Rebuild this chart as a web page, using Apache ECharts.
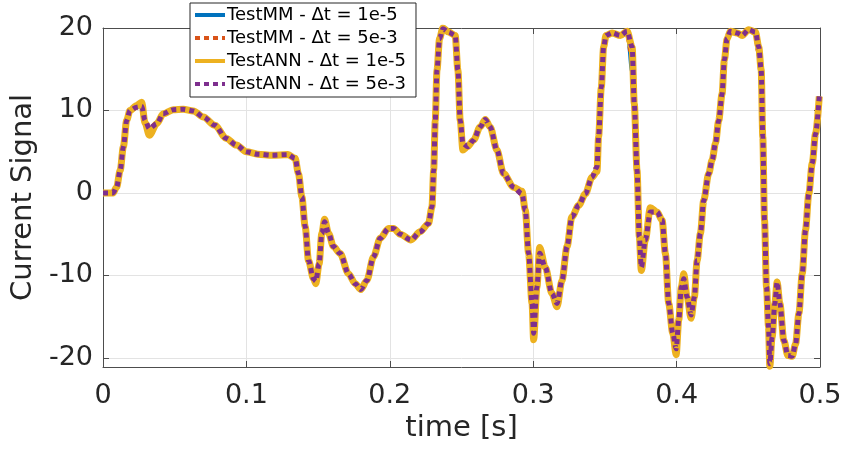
<!DOCTYPE html>
<html>
<head>
<meta charset="utf-8">
<script src="https://cdn.jsdelivr.net/npm/echarts@6/dist/echarts.min.js"></script>
<style>
  html, body { margin: 0; padding: 0; background: #fff; }
  #main { width: 845px; height: 450px; }
</style>
</head>
<body>
<div id="main"></div>
<script>
// time samples [s]
var time = [
  0, 0.007, 0.0095, 0.012, 0.0142, 0.0165, 0.0188, 0.0235, 0.027, 0.0293,
  0.0323, 0.0375, 0.042, 0.049, 0.056, 0.063, 0.070, 0.078, 0.086, 0.093,
  0.100, 0.108, 0.118, 0.129, 0.134, 0.1363, 0.1387, 0.141, 0.1433, 0.1468,
  0.1484, 0.1507, 0.1526, 0.1545, 0.1573, 0.1607, 0.1654, 0.1712, 0.1759, 0.1798,
  0.184, 0.1886, 0.1933, 0.1991, 0.2026, 0.2073, 0.2147, 0.2212, 0.227, 0.2294,
  0.2306, 0.2317, 0.2329, 0.2347, 0.237, 0.241, 0.2456, 0.2475, 0.2491, 0.251,
  0.2542, 0.2584, 0.263, 0.2666, 0.270, 0.2747, 0.2793, 0.2863, 0.2922, 0.2945,
  0.2968, 0.2992, 0.3003, 0.3026, 0.3045, 0.3084, 0.3131, 0.3166, 0.3201, 0.3236,
  0.327, 0.3317, 0.3364, 0.341, 0.3445, 0.3456, 0.3475, 0.3491, 0.3508, 0.355,
  0.3608, 0.3655, 0.369, 0.3705, 0.3724, 0.374, 0.3754, 0.3782, 0.3817, 0.3864,
  0.3899, 0.3922, 0.3945, 0.3973, 0.3997, 0.4015, 0.4033, 0.405, 0.4073, 0.4101,
  0.4124, 0.4143, 0.4166, 0.4189, 0.4224, 0.4248, 0.4271, 0.4294, 0.4317, 0.4333,
  0.4352, 0.4375, 0.4422, 0.4457, 0.4503, 0.455, 0.4573, 0.459, 0.4601, 0.4613,
  0.4627, 0.4641, 0.465, 0.4666, 0.4685, 0.4701, 0.472, 0.4748, 0.4776, 0.4806,
  0.483, 0.4853, 0.4876, 0.4899, 0.4922, 0.4946, 0.4969, 0.4995
];

// TestMM - dt = 1e-5
var mmFine = [
  0, 0, 0.7, 2.75, 5.6, 8.8, 10.0, 10.4, 10.6, 8.8,
  7.8, 8.4, 9.6, 10.1, 10.15, 9.95, 9.2, 8.2, 6.6, 5.8,
  5.0, 4.7, 4.57, 4.65, 4.2, 2.35, -0.5, -4.1, -8.2, -10.4,
  -10.7, -8.6, -4.9, -3.5, -4.9, -6.5, -7.35, -9.8, -11.0, -11.7,
  -10.6, -7.75, -5.5, -4.3, -4.3, -5.0, -5.7, -4.7, -3.7, -1.7,
  2.75, 8.8, 14.9, 18.7, 19.9, 19.5, 19.1, 14.9, 8.8, 6.0,
  5.6, 6.4, 8.0, 8.9, 8.0, 5.2, 2.35, 0.7, -0.1, -2.1,
  -7.35, -13.4, -17.0, -11.4, -7.3, -9.0, -12.2, -13.4, -10.6, -6.5,
  -2.9, -1.5, -0.1, 1.9, 3.15, 6.8, 12.8, 17.7, 19.1, 19.4,
  19.1, 19.8, 14.5, 9.0, 2.75, -5.3, -9.0, -5.4, -2.1, -2.3,
  -3.3, -7.35, -13.4, -17.0, -18.9, -15.4, -11.4, -10.3, -12.6, -14.8,
  -12.6, -8.2, -4.9, -0.9, 2.35, 4.0, 6.0, 8.8, 12.0, 16.1,
  18.7, 19.6, 19.4, 19.1, 19.8, 19.5, 16.5, 12.0, 4.0, -3.3,
  -11.4, -16.2, -20.7, -17.5, -13.4, -10.6, -13.4, -17.9, -19.7, -19.8,
  -18.3, -14.6, -9.8, -4.5, -0.1, 3.6, 7.2, 11.7
];

// TestMM - dt = 5e-3
var mmCoarse = [
  0, 0, 0.7, 2.75, 5.6, 8.8, 10.0, 10.4, 10.5, 8.8,
  7.8, 8.4, 9.6, 10.1, 10.15, 9.95, 9.2, 8.2, 6.6, 5.8,
  5.0, 4.7, 4.57, 4.65, 4.2, 2.35, -0.5, -4.1, -8.2, -10.4,
  -10.7, -8.6, -4.9, -3.5, -4.9, -6.5, -7.35, -9.8, -11.0, -11.7,
  -10.6, -7.75, -5.5, -4.3, -4.3, -5.0, -5.7, -4.7, -3.7, -1.7,
  2.75, 8.8, 14.9, 18.7, 19.9, 19.5, 19.1, 14.9, 8.8, 6.0,
  5.6, 6.4, 8.0, 8.9, 8.0, 5.2, 2.35, 0.7, -0.1, -2.1,
  -7.35, -13.4, -17.0, -11.4, -7.3, -9.0, -12.2, -13.4, -10.6, -6.5,
  -2.9, -1.5, -0.1, 1.9, 3.15, 6.8, 12.8, 17.7, 19.1, 19.4,
  19.1, 19.4, 16.5, 10.8, 2.75, -5.3, -9.0, -5.7, -2.3, -2.3,
  -3.3, -7.35, -13.4, -17.0, -18.9, -15.4, -11.4, -10.4, -12.6, -14.8,
  -12.6, -8.2, -4.9, -0.9, 2.35, 4.0, 6.0, 8.8, 12.0, 16.1,
  18.7, 19.6, 19.4, 19.1, 19.8, 19.3, 17.0, 14.9, 6.8, -3.3,
  -11.4, -16.2, -20.7, -17.5, -13.4, -10.8, -13.4, -17.9, -19.7, -19.8,
  -18.3, -14.6, -9.8, -4.5, -0.1, 3.6, 7.2, 11.7
];

// TestANN - dt = 1e-5
var annFine = [
  0, 0, 0.7, 2.75, 5.6, 8.8, 10.0, 10.6, 11.0, 8.5,
  7.0, 8.4, 9.6, 10.1, 10.15, 9.95, 9.2, 8.2, 6.6, 5.8,
  5.0, 4.7, 4.57, 4.65, 4.2, 2.35, -0.5, -4.1, -8.2, -10.4,
  -11.0, -8.6, -4.9, -3.2, -4.9, -6.5, -7.35, -9.8, -11.0, -11.7,
  -10.6, -7.75, -5.5, -4.3, -4.3, -5.0, -5.7, -4.7, -3.7, -1.7,
  2.75, 8.8, 14.9, 18.7, 20.0, 19.5, 19.1, 14.9, 8.8, 5.2,
  5.6, 6.4, 8.0, 8.9, 8.0, 5.2, 2.35, 0.7, 0.2, -2.1,
  -7.35, -13.4, -17.8, -11.4, -6.6, -9.0, -12.2, -13.8, -10.6, -6.5,
  -2.9, -1.5, -0.1, 1.9, 2.6, 6.8, 12.8, 17.7, 19.1, 19.4,
  19.1, 19.6, 17.7, 10.8, 2.75, -5.3, -9.4, -5.7, -1.8, -2.3,
  -3.3, -7.35, -13.4, -17.0, -19.6, -15.4, -11.4, -9.8, -12.6, -15.2,
  -12.6, -8.2, -4.9, -0.9, 2.35, 4.0, 6.0, 8.8, 12.0, 16.1,
  18.7, 19.6, 19.4, 19.1, 19.8, 19.5, 17.7, 14.9, 6.8, -3.3,
  -11.4, -16.2, -21.0, -17.5, -13.4, -10.8, -13.4, -17.9, -19.7, -19.8,
  -18.3, -14.6, -9.8, -4.5, -0.1, 3.6, 7.2, 11.7
];

// TestANN - dt = 5e-3
var annCoarse = [
  0, 0, 0.7, 2.75, 5.6, 8.8, 10.0, 10.4, 10.5, 8.8,
  7.8, 8.4, 9.6, 10.1, 10.15, 9.95, 9.2, 8.2, 6.6, 5.8,
  5.0, 4.7, 4.57, 4.65, 4.2, 2.35, -0.5, -4.1, -8.2, -10.4,
  -10.7, -8.6, -4.9, -3.5, -4.9, -6.5, -7.35, -9.8, -11.0, -11.7,
  -10.6, -7.75, -5.5, -4.3, -4.3, -5.0, -5.7, -4.7, -3.7, -1.7,
  2.75, 8.8, 14.9, 18.7, 19.9, 19.5, 19.1, 14.9, 8.8, 6.0,
  5.6, 6.4, 8.0, 8.9, 8.0, 5.2, 2.35, 0.7, -0.1, -2.1,
  -7.35, -13.4, -17.0, -11.4, -7.3, -9.0, -12.2, -13.4, -10.6, -6.5,
  -2.9, -1.5, -0.1, 1.9, 3.15, 6.8, 12.8, 17.7, 19.1, 19.4,
  19.1, 19.6, 17.7, 10.8, 2.75, -5.3, -9.0, -5.7, -2.3, -2.3,
  -3.3, -7.35, -13.4, -17.0, -18.9, -15.4, -11.4, -10.4, -12.6, -14.8,
  -12.6, -8.2, -4.9, -0.9, 2.35, 4.0, 6.0, 8.8, 12.0, 16.1,
  18.7, 19.6, 19.4, 19.1, 19.8, 19.5, 17.7, 14.9, 6.8, -3.3,
  -11.4, -16.2, -20.7, -17.5, -13.4, -10.8, -13.4, -17.9, -19.7, -19.8,
  -18.3, -14.6, -9.8, -4.5, -0.1, 3.6, 7.2, 11.7
];

var yTicks = [-20, -10, 0, 10, 20];
var seriesNames = ['TestMM - \u0394t = 1e-5', 'TestMM - \u0394t = 5e-3', 'TestANN - \u0394t = 1e-5', 'TestANN - \u0394t = 5e-3'];

function pairs(vals) {
  return time.map(function (t, i) { return [t, vals[i]]; });
}

var textColor = '#262626';
var axisColor = '#4d4d4d';
var gridColor = '#e3e3e3';
var fontFamily = 'DejaVu Sans';

var myChart = echarts.init(document.getElementById('main'));

function lineSeries(name, vals, color, width, dash) {
  return {
    name: name,
    type: 'line',
    data: pairs(vals),
    symbol: 'none',
    smooth: 0.3,
    smoothMonotone: 'x',
    clip: true,
    lineStyle: { color: color, width: width, type: dash || 'solid', cap: 'butt', join: 'round' },
    itemStyle: { color: color }
  };
}

myChart.setOption({
  animation: false,
  backgroundColor: '#fff',
  textStyle: { fontFamily: fontFamily, color: textColor },
  grid: { left: 103, right: 25, top: 28, bottom: 83 },
  legend: {
    orient: 'vertical',
    left: 190,
    top: 3,
    padding: [3, 10, 4, 3],
    itemWidth: 30,
    itemHeight: 18,
    itemGap: 5,
    backgroundColor: '#fff',
    borderColor: '#262626',
    borderWidth: 1,
    itemStyle: { opacity: 0 },
    textStyle: { fontFamily: fontFamily, fontSize: 18, color: '#000', padding: [0, 0, 0, -3] },
    data: [
      { name: seriesNames[0], lineStyle: { width: 4 } },
      { name: seriesNames[1], lineStyle: { width: 4 } },
      { name: seriesNames[2], lineStyle: { width: 4 } },
      { name: seriesNames[3], lineStyle: { width: 4 } }
    ]
  },
  xAxis: [{
    type: 'value',
    min: 0,
    max: 0.5,
    interval: 0.1,
    name: 'time [s]',
    nameLocation: 'middle',
    nameGap: 45,
    nameTextStyle: { fontFamily: fontFamily, fontSize: 29, color: textColor },
    axisLine: { show: true, onZero: false, lineStyle: { color: axisColor, width: 1 } },
    axisTick: { show: true, inside: true, length: 6, lineStyle: { color: axisColor } },
    axisLabel: { fontFamily: fontFamily, fontSize: 27, color: textColor, margin: 15 },
    splitLine: { show: true, lineStyle: { color: gridColor, width: 1 } }
  }, {
    type: 'value',
    position: 'top',
    min: 0,
    max: 0.5,
    interval: 0.1,
    axisLine: { show: true, onZero: false, lineStyle: { color: axisColor, width: 1 } },
    axisTick: { show: true, inside: true, length: 6, lineStyle: { color: axisColor } },
    axisLabel: { show: false },
    splitLine: { show: false }
  }],
  yAxis: [{
    type: 'value',
    min: -21.1,
    max: 20,
    name: 'Current Signal',
    nameLocation: 'middle',
    nameGap: 63,
    nameTextStyle: { fontFamily: fontFamily, fontSize: 29, color: textColor },
    axisLine: { show: true, onZero: false, lineStyle: { color: axisColor, width: 1 } },
    axisTick: { show: true, inside: true, length: 6, lineStyle: { color: axisColor }, customValues: yTicks },
    axisLabel: { fontFamily: fontFamily, fontSize: 27, color: textColor, margin: 10, customValues: yTicks },
    splitLine: { show: true, lineStyle: { color: gridColor, width: 1 } }
  }, {
    type: 'value',
    position: 'right',
    min: -21.1,
    max: 20,
    axisLine: { show: true, onZero: false, lineStyle: { color: axisColor, width: 1 } },
    axisTick: { show: true, inside: true, length: 6, lineStyle: { color: axisColor }, customValues: yTicks },
    axisLabel: { show: false },
    splitLine: { show: false }
  }],
  series: [
    lineSeries(seriesNames[0], mmFine, '#0072BD', 3.5),
    lineSeries(seriesNames[1], mmCoarse, '#D95319', 5, [5, 4]),
    lineSeries(seriesNames[2], annFine, '#EDB120', 7),
    lineSeries(seriesNames[3], annCoarse, '#7E2F8E', 5, [5, 4])
  ]
});
</script>
</body>
</html>
